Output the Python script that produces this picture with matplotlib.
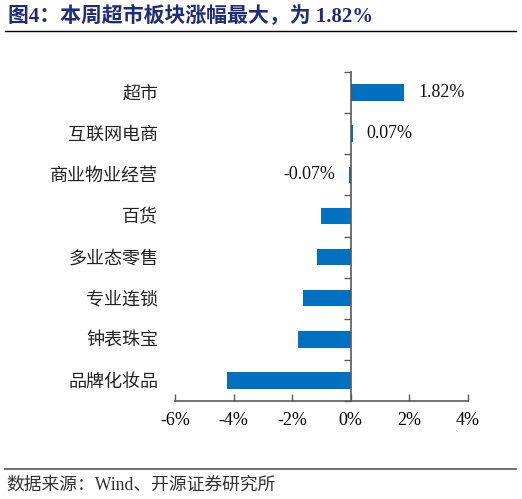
import matplotlib
matplotlib.use("Agg")
import matplotlib.pyplot as plt
from matplotlib.lines import Line2D

plt.rcParams['font.family'] = ['Liberation Serif', 'Noto Sans CJK SC', 'DejaVu Sans']

categories = ['超市', '互联网电商', '商业物业经营', '百货', '多业态零售', '专业连锁', '钟表珠宝', '品牌化妆品']
values = [1.82, 0.07, -0.07, -1.01, -1.15, -1.62, -1.80, -4.22]
labeled = [True, True, True, False, False, False, False, False]
xticks = [-6, -4, -2, 0, 2, 4]
xticklabels = ['-6%', '-4%', '-2%', '0%', '2%', '4%']
title = '图4：本周超市板块涨幅最大，为 1.82%'
source = '数据来源：Wind、开源证券研究所'

bar_color = '#0070C0'
axis_color = '#595959'

fig = plt.figure(figsize=(5.22, 4.99), dpi=100)
ax = fig.add_axes([0.3352, 0.1964, 0.5614, 0.6593])

pos = list(range(len(categories)))
ax.barh(pos, values, height=0.4, color=bar_color, zorder=3)

ax.set_xlim(-6, 4)
ax.set_ylim(len(categories) - 0.5, -0.5)
ax.set_xticks(xticks)
ax.set_xticklabels(xticklabels, fontsize=13)
ax.set_yticks(pos)
ax.set_yticklabels(categories, fontsize=13, color='#222222', fontweight='light')
ax.tick_params(axis='y', length=0, pad=12)
ax.tick_params(axis='x', direction='in', length=5, color=axis_color, pad=8, width=1)
for s in ['left', 'right', 'top']:
    ax.spines[s].set_visible(False)
ax.spines['bottom'].set_color(axis_color)
ax.spines['bottom'].set_linewidth(1.2)

# secondary axis for the zero line with separator ticks
ax2 = ax.twinx()
ax2.set_ylim(len(categories) - 0.5, -0.5)
ax2.spines['left'].set_position(('data', 0))
ax2.spines['left'].set_visible(True)
ax2.spines['left'].set_color(axis_color)
ax2.spines['left'].set_linewidth(1.2)
for s in ['right', 'top', 'bottom']:
    ax2.spines[s].set_visible(False)
ax2.yaxis.set_ticks_position('left')
ax2.set_yticks([p - 0.5 for p in pos] + [len(categories) - 0.5])
ax2.set_yticklabels([])
ax2.tick_params(axis='y', direction='out', length=5, color=axis_color, width=1)
ax2.set_zorder(ax.get_zorder() + 1)
ax2.patch.set_visible(False)

for p, v, lab in zip(pos, values, labeled):
    if lab:
        ax.annotate(f'{v:.2f}%', xy=(v, p), xytext=(10 if v >= 0 else -10, 0),
                    textcoords='offset points', ha='left' if v >= 0 else 'right',
                    va='center', fontsize=13, color='#111111')

fig.text(0.015, 0.968, title, fontsize=15, fontweight='bold', color='#1F2C7A',
         ha='left', va='center')
fig.add_artist(Line2D([0.01, 0.989], [0.937, 0.937], color='black', linewidth=1,
                      transform=fig.transFigure))
fig.add_artist(Line2D([0.01, 0.989], [0.06, 0.06], color='#555555', linewidth=1.2,
                      transform=fig.transFigure))
fig.text(0.013, 0.028, source, fontsize=12.8, color='#333333', ha='left', va='center',
         fontweight='light')

fig.savefig('out.png', dpi=100)
